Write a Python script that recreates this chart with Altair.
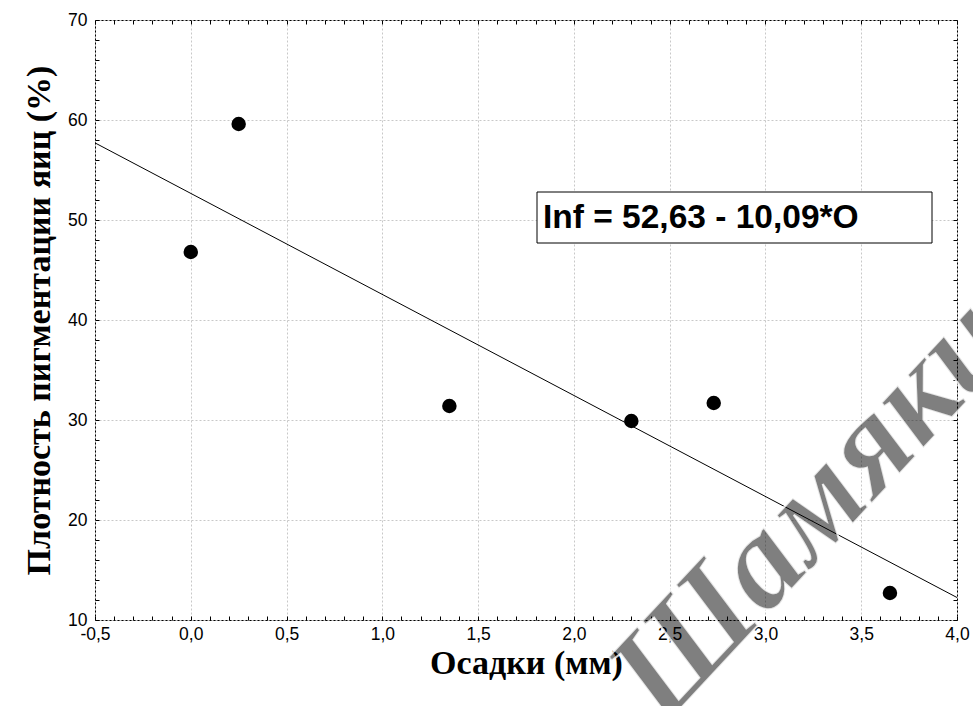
import altair as alt
import pandas as pd

# ---- data ----
osadki = [0.0, 0.25, 1.35, 2.3, 2.73, 3.65]          # Осадки (мм)
plotnost = [46.8, 59.6, 31.4, 29.9, 31.7, 12.7]      # Плотность пигментации яиц (%)

x_major = [-0.5, 0.0, 0.5, 1.0, 1.5, 2.0, 2.5, 3.0, 3.5, 4.0]
x_minor = [-0.5, -0.4, -0.3, -0.2, -0.1, 0.0, 0.1, 0.2, 0.3, 0.4,
           0.5, 0.6, 0.7, 0.8, 0.9, 1.0, 1.1, 1.2, 1.3, 1.4,
           1.5, 1.6, 1.7, 1.8, 1.9, 2.0, 2.1, 2.2, 2.3, 2.4,
           2.5, 2.6, 2.7, 2.8, 2.9, 3.0, 3.1, 3.2, 3.3, 3.4,
           3.5, 3.6, 3.7, 3.8, 3.9, 4.0]
y_major = [10, 20, 30, 40, 50, 60, 70]
y_minor = [10, 12, 14, 16, 18, 20, 22, 24, 26, 28, 30, 32, 34, 36, 38, 40,
           42, 44, 46, 48, 50, 52, 54, 56, 58, 60, 62, 64, 66, 68, 70]

x_title = "Осадки (мм)"
y_title = "Плотность пигментации яиц (%)"
equation = "Inf = 52,63 - 10,09*O"
watermark = "Шамякин"

df = pd.DataFrame({"x": osadki, "y": plotnost})

xs = alt.Scale(domain=[-0.5, 4.0], nice=False, zero=False)
ys = alt.Scale(domain=[10, 70], nice=False, zero=False)

x_label_expr = "replace(replace(format(datum.value, '.1f'), '.', ','), '\u2212', '-')"

common_lab = dict(labelFont="Liberation Sans", labelFontSize=17.5, labelColor="black",
                  labelFlush=False, labelOverlap=False, ticks=False, tickSize=0,
                  domain=False, grid=True, gridColor="#c8c8c8", gridDash=[2, 2],
                  gridWidth=1, titleFont="Liberation Serif", titleFontSize=34,
                  titleFontWeight="bold", titleColor="black")

main = alt.Chart(df).mark_circle(size=210, color="black", opacity=1).encode(
    x=alt.X("x:Q", scale=xs, axis=alt.Axis(
        orient="bottom", values=x_major, labelExpr=x_label_expr, labelPadding=5,
        title=x_title, titleBaseline="middle", titleY=43, **common_lab)),
    y=alt.Y("y:Q", scale=ys, axis=alt.Axis(
        orient="left", values=y_major, format="d", labelPadding=8,
        title=y_title, titleBaseline="middle", titleX=-56, **common_lab)),
)

def tick_axis(orient, values):
    return alt.Axis(orient=orient, values=values, labels=False, domain=False,
                    grid=False, ticks=True, tickSize=4, offset=-4,
                    tickColor="black", tickWidth=1, title=None)

ticks_bl = alt.Chart(df).mark_point(opacity=0).encode(
    x=alt.X("x:Q", scale=xs, axis=tick_axis("bottom", x_minor)),
    y=alt.Y("y:Q", scale=ys, axis=tick_axis("left", y_minor)),
)

line = alt.Chart(df).transform_regression(
    "x", "y", extent=[-0.5, 4.0]
).mark_line(color="black", strokeWidth=1).encode(
    x=alt.X("x:Q", scale=xs, axis=tick_axis("top", x_minor)),
    y=alt.Y("y:Q", scale=ys, axis=tick_axis("right", y_minor)),
)

eq_df = pd.DataFrame({"t": [equation]})
box = alt.Chart(eq_df).mark_rect(fill="white", stroke="black", strokeWidth=1).encode(
    x=alt.value(442), x2=alt.value(837), y=alt.value(172), y2=alt.value(223)
)
box_text = alt.Chart(eq_df).mark_text(
    font="Liberation Sans", fontSize=33.5, fontWeight="bold", color="black",
    align="left", baseline="middle"
).encode(x=alt.value(448), y=alt.value(198), text="t:N")

wm_df = pd.DataFrame({"t": [watermark]})
wm = alt.Chart(wm_df).mark_text(
    font="Liberation Serif", fontSize=134, fontStyle="italic", fontWeight="bold",
    fill="black", fillOpacity=0.5, stroke="white", strokeOpacity=0.8, strokeWidth=2,
    align="center", baseline="middle", angle=313
).encode(x=alt.value(742), y=alt.value(462), text="t:N")

chart = alt.layer(main, ticks_bl, line, box, box_text, wm).resolve_axis(
    x="independent", y="independent"
).properties(
    width=862, height=600,
    padding={"left": 95, "top": 20, "right": 16, "bottom": 86},
    autosize=alt.AutoSizeParams(type="none"),
    background="white",
).configure_view(stroke="black", strokeWidth=1)

chart.save("out.html", embed_options={"renderer": "svg", "actions": False})
